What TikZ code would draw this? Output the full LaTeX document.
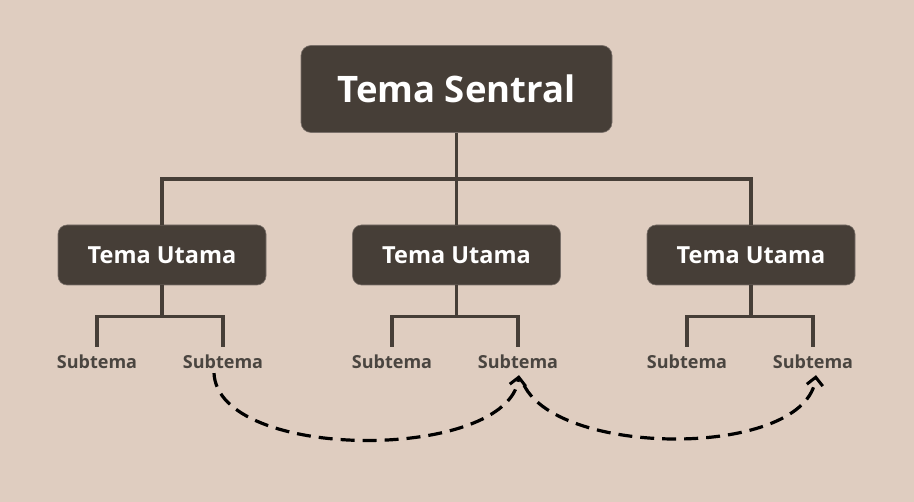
\documentclass[tikz,border=0pt]{standalone}
\usepackage{fontspec}
\setmainfont{Open Sans}
\usetikzlibrary{arrows.meta}
\definecolor{bg}{HTML}{DFCDC0}
\definecolor{boxc}{HTML}{463E37}
\definecolor{boxline}{HTML}{7A706A}
\definecolor{subc}{HTML}{4A4540}
\tikzset{
  x=1pt,y=-1pt,
  central/.style={fill=boxc,draw=boxline,line width=0.6pt,rounded corners=10pt,minimum width=311pt,minimum height=87pt,text=white,font=\fontsize{36.5}{44}\selectfont\bfseries,inner sep=0pt},
  mainbox/.style={fill=boxc,draw=boxline,line width=0.6pt,rounded corners=9pt,minimum width=208pt,minimum height=60pt,text=white,font=\fontsize{23.5}{28}\selectfont\bfseries,inner sep=0pt},
  subbox/.style={text=subc,font=\fontsize{18}{21}\selectfont\bfseries,inner sep=0pt},
  tree/.style={draw=boxc,line width=3.2pt},
  link/.style={draw=black,line width=3.2pt,dash pattern=on 14pt off 8pt,-{Straight Barb[length=8pt,width=16pt,line width=3pt]}},
}
\begin{document}
\begin{tikzpicture}
\fill[bg] (0,0) rectangle (914,502);
\useasboundingbox (0,0) rectangle (914,502);
\node[central] (c) at (456.5,89) {Tema Sentral};
\node[mainbox] (m1) at (162,255) {Tema Utama};
\node[mainbox] (m2) at (456.5,255) {Tema Utama};
\node[mainbox] (m3) at (751,255) {Tema Utama};
\node[subbox] (s1) at (97,362) {Subtema};
\node[subbox] (s2) at (223,362) {Subtema};
\node[subbox] (s3) at (392,362) {Subtema};
\node[subbox] (s4) at (518,362) {Subtema};
\node[subbox] (s5) at (687,362) {Subtema};
\node[subbox] (s6) at (813,362) {Subtema};
% tree connectors
\coordinate (j) at (456.5,179);
\draw[tree] (c.south) -- (j);
\draw[tree] (m1.north) |- (j) -| (m3.north);
\draw[tree] (j) -- (m2.north);
\draw[tree] (m1.south) -- ++(0,31) coordinate (k1);
\draw[tree] (s1.north |- 0,347) |- (k1) -| (s2.north |- 0,347);
\draw[tree] (m2.south) -- ++(0,31) coordinate (k2);
\draw[tree] (s3.north |- 0,347) |- (k2) -| (s4.north |- 0,347);
\draw[tree] (m3.south) -- ++(0,31) coordinate (k3);
\draw[tree] (s5.north |- 0,347) |- (k3) -| (s6.north |- 0,347);
% dashed links
\draw[link] ([xshift=-9pt,yshift=-4pt]s2.south) .. controls (218,462) and (508,462) .. ([xshift=1pt,yshift=-6pt]s4.south);
\draw[link] ([xshift=6pt,yshift=-16pt]s4.south) .. controls (560,458) and (806,458) .. ([xshift=3pt,yshift=-6pt]s6.south);
\end{tikzpicture}
\end{document}
